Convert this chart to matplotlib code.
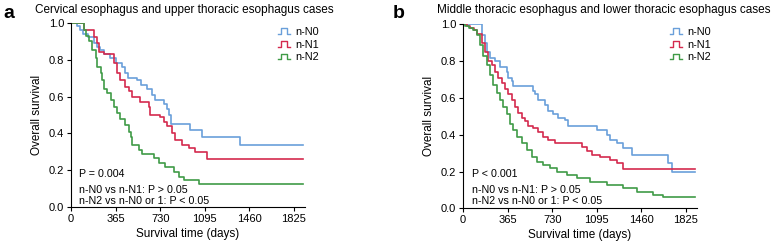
import matplotlib
matplotlib.use("Agg")
import matplotlib.pyplot as plt
from matplotlib.legend_handler import HandlerBase
from matplotlib.lines import Line2D

plt.rcParams['font.family'] = ['Liberation Sans', 'DejaVu Sans']

# ---------------- data ----------------
groups = ["n-N0", "n-N1", "n-N2"]
x_ticks = [0, 365, 730, 1095, 1460, 1825]
y_ticks = [0.0, 0.2, 0.4, 0.6, 0.8, 1.0]

# Panel a: cervical + upper thoracic
a_n0_t = [0, 50, 75, 100, 140, 190, 215, 240, 270, 320, 365, 420, 445, 470, 540, 570, 620, 665, 690, 760, 785, 800, 815, 975, 1070, 1385, 1900]
a_n0_s = [1.0, 0.98, 0.96, 0.94, 0.92, 0.89, 0.87, 0.85, 0.83, 0.81, 0.78, 0.76, 0.73, 0.70, 0.69, 0.66, 0.64, 0.61, 0.58, 0.56, 0.53, 0.50, 0.45, 0.42, 0.38, 0.337, 0.337]
a_n1_t = [0, 106, 188, 215, 228, 269, 351, 378, 405, 446, 473, 500, 568, 636, 650, 732, 759, 786, 827, 854, 908, 963, 1017, 1112, 1900]
a_n1_s = [1.0, 0.96, 0.92, 0.89, 0.84, 0.83, 0.78, 0.73, 0.69, 0.65, 0.63, 0.60, 0.57, 0.545, 0.50, 0.49, 0.46, 0.44, 0.40, 0.365, 0.34, 0.32, 0.30, 0.264, 0.264]
a_n2_t = [0, 106, 120, 147, 174, 201, 215, 242, 256, 269, 296, 324, 351, 378, 405, 446, 473, 487, 500, 555, 582, 677, 718, 772, 840, 881, 922, 1044, 1900]
a_n2_s = [1.0, 0.96, 0.93, 0.90, 0.85, 0.81, 0.76, 0.73, 0.69, 0.64, 0.62, 0.58, 0.545, 0.51, 0.48, 0.445, 0.41, 0.38, 0.34, 0.31, 0.29, 0.265, 0.24, 0.22, 0.19, 0.166, 0.148, 0.125, 0.125]

# Panel b: middle + lower thoracic
b_n0_t = [0, 153, 180, 194, 221, 262, 303, 357, 371, 398, 412, 576, 589, 616, 671, 698, 739, 780, 835, 862, 1094, 1176, 1203, 1258, 1312, 1380, 1680, 1708, 1900]
b_n0_s = [1.0, 0.94, 0.90, 0.85, 0.815, 0.80, 0.77, 0.74, 0.71, 0.69, 0.665, 0.64, 0.62, 0.59, 0.56, 0.53, 0.51, 0.49, 0.48, 0.45, 0.425, 0.40, 0.37, 0.353, 0.326, 0.29, 0.245, 0.195, 0.195]
b_n1_t = [0, 30, 60, 90, 112, 153, 180, 207, 235, 262, 289, 316, 344, 371, 398, 426, 453, 480, 507, 535, 576, 616, 657, 698, 753, 971, 1012, 1053, 1121, 1203, 1258, 1312, 1900]
b_n1_s = [1.0, 0.99, 0.98, 0.97, 0.95, 0.90, 0.85, 0.80, 0.78, 0.74, 0.71, 0.68, 0.65, 0.62, 0.59, 0.55, 0.52, 0.49, 0.475, 0.45, 0.435, 0.415, 0.39, 0.37, 0.355, 0.335, 0.31, 0.29, 0.28, 0.26, 0.245, 0.215, 0.215]
b_n2_t = [0, 16, 50, 80, 112, 139, 166, 194, 221, 248, 276, 303, 330, 357, 385, 412, 439, 480, 521, 562, 603, 657, 712, 766, 848, 930, 1039, 1176, 1312, 1421, 1558, 1639, 1900]
b_n2_s = [1.0, 0.99, 0.98, 0.97, 0.94, 0.89, 0.83, 0.78, 0.725, 0.67, 0.625, 0.59, 0.55, 0.51, 0.46, 0.425, 0.39, 0.353, 0.317, 0.28, 0.254, 0.235, 0.217, 0.20, 0.18, 0.163, 0.145, 0.127, 0.11, 0.09, 0.072, 0.063, 0.063]

colors = ["#6a9fda", "#d42a4e", "#3f9b47"]

W, H = 774, 247
fig = plt.figure(figsize=(W / 100, H / 100), dpi=100)


class StepHandler(HandlerBase):
    def create_artists(self, legend, orig_handle, xdescent, ydescent,
                       width, height, fontsize, trans):
        x0, y0 = -xdescent, -ydescent
        w, h = width, height
        xs = [x0, x0 + 0.25 * w, x0 + 0.25 * w, x0 + 0.75 * w, x0 + 0.75 * w, x0 + w]
        ys = [y0 + 0.15 * h, y0 + 0.15 * h, y0 + 0.9 * h, y0 + 0.9 * h, y0 + 0.15 * h, y0 + 0.15 * h]
        ln = Line2D(xs, ys, color=orig_handle.get_color(), lw=1.0, transform=trans)
        return [ln]


def panel(rect, series, letter, letter_x, title, title_x, ptext, ann_x, leg_x):
    ax = fig.add_axes(rect)
    handles = []
    for (t, s), c, g in zip(series, colors, groups):
        h, = ax.step(t, s, where="post", color=c, lw=1.2, label=g)
        handles.append(h)
    ax.set_xlim(0, 1915)
    ax.set_ylim(0, 1.0)
    ax.set_xticks(x_ticks)
    ax.set_yticks(y_ticks)
    ax.set_yticklabels([f"{v:.1f}" for v in y_ticks])
    for sp in ["top", "right"]:
        ax.spines[sp].set_visible(False)
    for sp in ["left", "bottom"]:
        ax.spines[sp].set_linewidth(0.8)
    ax.tick_params(direction="out", length=3, width=0.8, labelsize=8, pad=2)
    ax.set_xlabel("Survival time (days)", fontsize=8.5, labelpad=3)
    ax.set_ylabel("Overall survival", fontsize=8.5, labelpad=4)
    ax.legend(handles=handles, handler_map={Line2D: StepHandler()},
              loc="upper left", bbox_to_anchor=(leg_x / W, 1 - 27 / H),
              bbox_transform=fig.transFigure, frameon=False, fontsize=7.8,
              handlelength=1.1, handletextpad=0.45, labelspacing=0.25,
              borderpad=0, borderaxespad=0)
    fig.text(letter_x / W, 1 - 14 / H, letter, fontsize=14, fontweight="bold",
             ha="left", va="center")
    fig.text(title_x / W, 1 - 10 / H, title, fontsize=8.5, ha="left", va="center")
    fig.text(ann_x / W, 1 - 174 / H, ptext, fontsize=7.7, ha="left", va="center")
    fig.text(ann_x / W, 1 - 190 / H, "n-N0 vs n-N1: P > 0.05", fontsize=7.7, ha="left", va="center")
    fig.text(ann_x / W, 1 - 201 / H, "n-N2 vs n-N0 or 1: P < 0.05", fontsize=7.7, ha="left", va="center")
    return ax


panel([71 / W, 1 - 207.3 / H, (305 - 71) / W, (207.3 - 22.7) / H],
      [(a_n0_t, a_n0_s), (a_n1_t, a_n1_s), (a_n2_t, a_n2_s)],
      "a", 3, "Cervical esophagus and upper thoracic esophagus cases", 35,
      "P = 0.004", 79, 278)
panel([463 / W, 1 - 208.3 / H, (697 - 463) / W, (208.3 - 24.3) / H],
      [(b_n0_t, b_n0_s), (b_n1_t, b_n1_s), (b_n2_t, b_n2_s)],
      "b", 393, "Middle thoracic esophagus and lower thoracic esophagus cases", 437,
      "P < 0.001", 472, 670)

fig.savefig("out.png", dpi=100)
